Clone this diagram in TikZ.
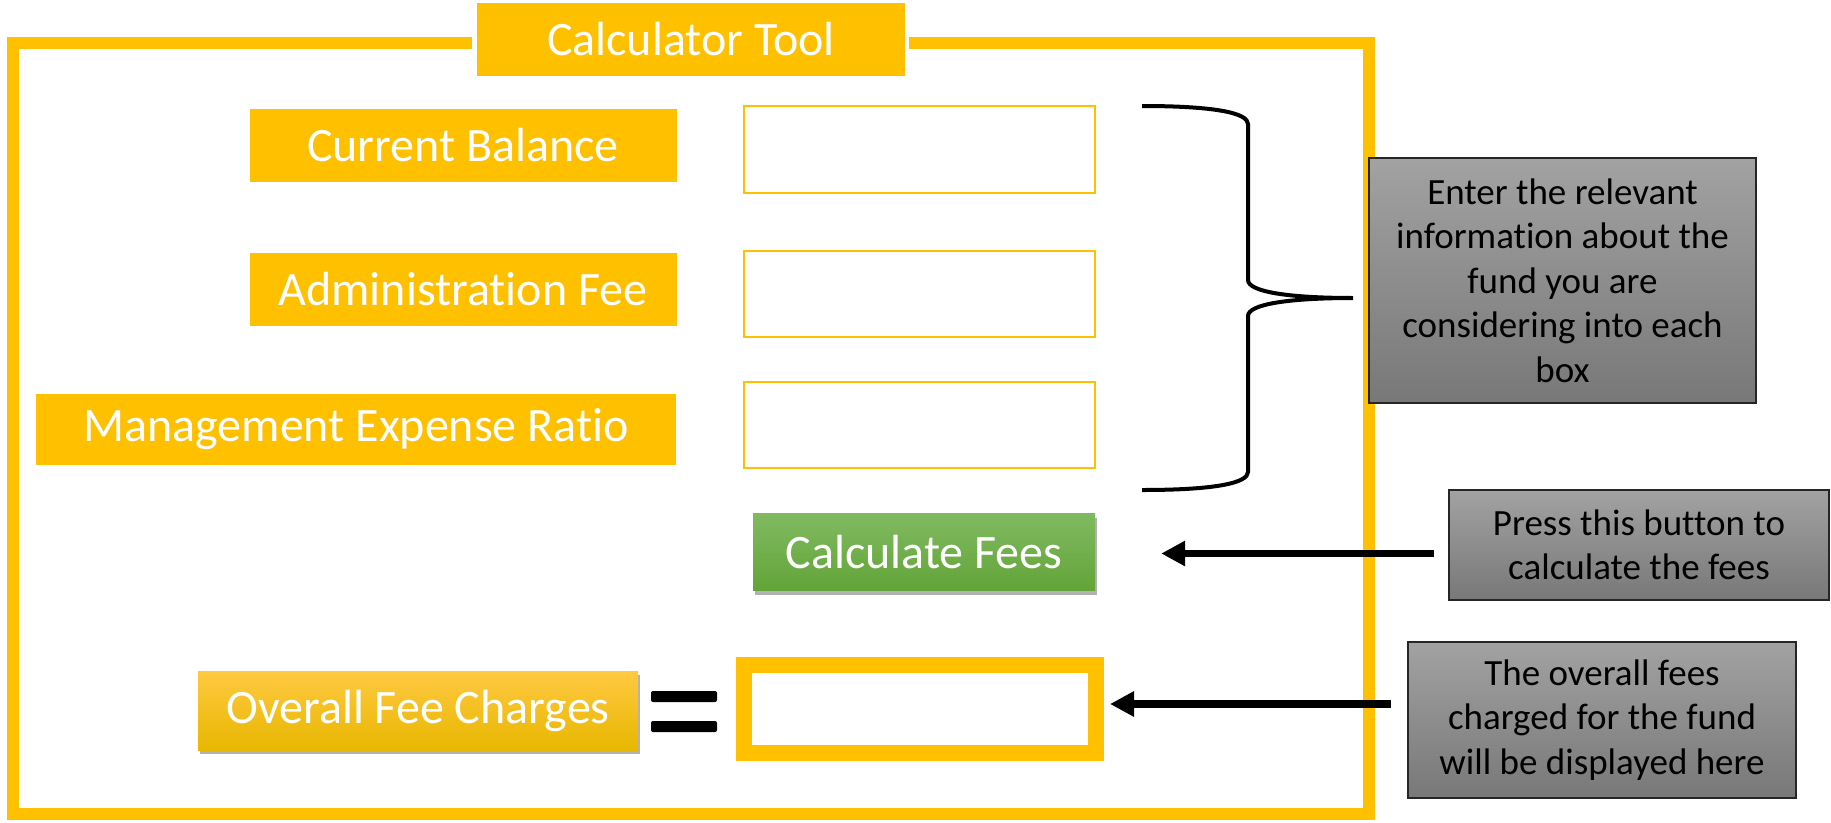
\documentclass[tikz,border=0pt]{standalone}
\usepackage{fontspec}
\setmainfont[Ligatures=NoCommon]{Carlito}
\usetikzlibrary{arrows.meta,shadows}

\definecolor{gold}{RGB}{255,192,0}
\definecolor{greentop}{RGB}{128,186,96}
\definecolor{greenbot}{RGB}{99,164,57}
\definecolor{goldtop}{RGB}{255,201,66}
\definecolor{goldbot}{RGB}{232,183,0}
\definecolor{greytop}{RGB}{162,162,162}
\definecolor{greybot}{RGB}{120,120,120}

\tikzset{
  label box/.style={fill=gold, text=white, inner sep=0pt,
    font=\fontsize{48}{58}\selectfont},
  input box/.style={draw=gold, line width=2pt, fill=white, inner sep=0pt},
  button box/.style={inner sep=0pt, text=white,
    font=\fontsize{48}{58}\selectfont,
    drop shadow={shadow xshift=1.5pt, shadow yshift=-4pt, opacity=0.3, fill=black}},
  note box/.style={draw=black!85, line width=1.5pt, top color=greytop,
    bottom color=greybot, align=center, inner sep=0pt,
    font=\fontsize{37}{44.5}\selectfont},
  pointer/.style={line width=7.5pt, -{Triangle[length=24pt,width=24pt]}}
}

\begin{document}
\begin{tikzpicture}[x=1pt,y=-1pt]
\useasboundingbox (0,0) rectangle (1831,822);

% outer frame with a gap for the title
\draw[gold, line width=12pt] (472,43) -- (13,43) -- (13,814) -- (1369,814)
  -- (1369,43) -- (909,43);

\node[label box, minimum width=428pt, minimum height=73pt] (title) at (691,39.5) {Calculator Tool};

% field labels
\node[label box, minimum width=427pt, minimum height=73pt] (bal) at (463,145) {Current Balance};
\node[label box, minimum width=427pt, minimum height=73pt] (adm) at (463,289.5) {Administration Fee};
\node[label box, minimum width=640pt, minimum height=71pt] (mer) at (356,429.5) {Management Expense Ratio};

% input fields
\node[input box, minimum width=351pt, minimum height=87pt] (inbal) at (919.5,149.5) {};
\node[input box, minimum width=351pt, minimum height=86pt] (inadm) at (919.5,294) {};
\node[input box, minimum width=351pt, minimum height=86pt] (inmer) at (919.5,425) {};

% buttons
\node[button box, top color=greentop, bottom color=greenbot,
  minimum width=342pt, minimum height=77pt] (calc) at (924,552) {Calculate Fees};
\node[button box, top color=goldtop, bottom color=goldbot,
  minimum width=440pt, minimum height=79pt] (total) at (418,710.5) {Overall Fee Charges};

% equals sign
\fill[black, rounded corners=2pt] (651,691) rectangle (717,702);
\fill[black, rounded corners=2pt] (651,721) rectangle (717,732);

% result field
\node[draw=gold, line width=16pt, fill=white, inner sep=0pt,
  minimum width=352pt, minimum height=88pt] (result) at (920,709) {};

% explanatory notes
\node[note box, minimum width=387pt, minimum height=245pt] (gb1) at (1562.5,280.5)
  {Enter the relevant\\information about the\\fund you are\\considering into each\\box};
\node[note box, minimum width=380pt, minimum height=110pt] (gb2) at (1639,545)
  {Press this button to\\calculate the fees};
\node[note box, minimum width=388pt, minimum height=156pt] (gb3) at (1602,720)
  {The overall fees\\charged for the fund\\will be displayed here};

% brace grouping the three inputs
\coordinate (bracetip) at (1353,298);
\draw[line width=4pt] (1142,106) .. controls (1215,106) and (1248,113) .. (1248,124)
  -- (1248,280) .. controls (1248,292) and (1290,298) .. (bracetip)
  .. controls (1290,298) and (1248,304) .. (1248,316)
  -- (1248,472) .. controls (1248,483) and (1215,490) .. (1142,490);

% pointers
\draw[pointer, shorten <=14pt, shorten >=66pt] ([yshift=-1.5pt]calc.east -| gb2.west) -- ([yshift=-1.5pt]calc.east);
\draw[pointer, shorten <=16pt, shorten >=6pt] ([yshift=5pt]result.east -| gb3.west) -- ([yshift=5pt]result.east);
\end{tikzpicture}
\end{document}
